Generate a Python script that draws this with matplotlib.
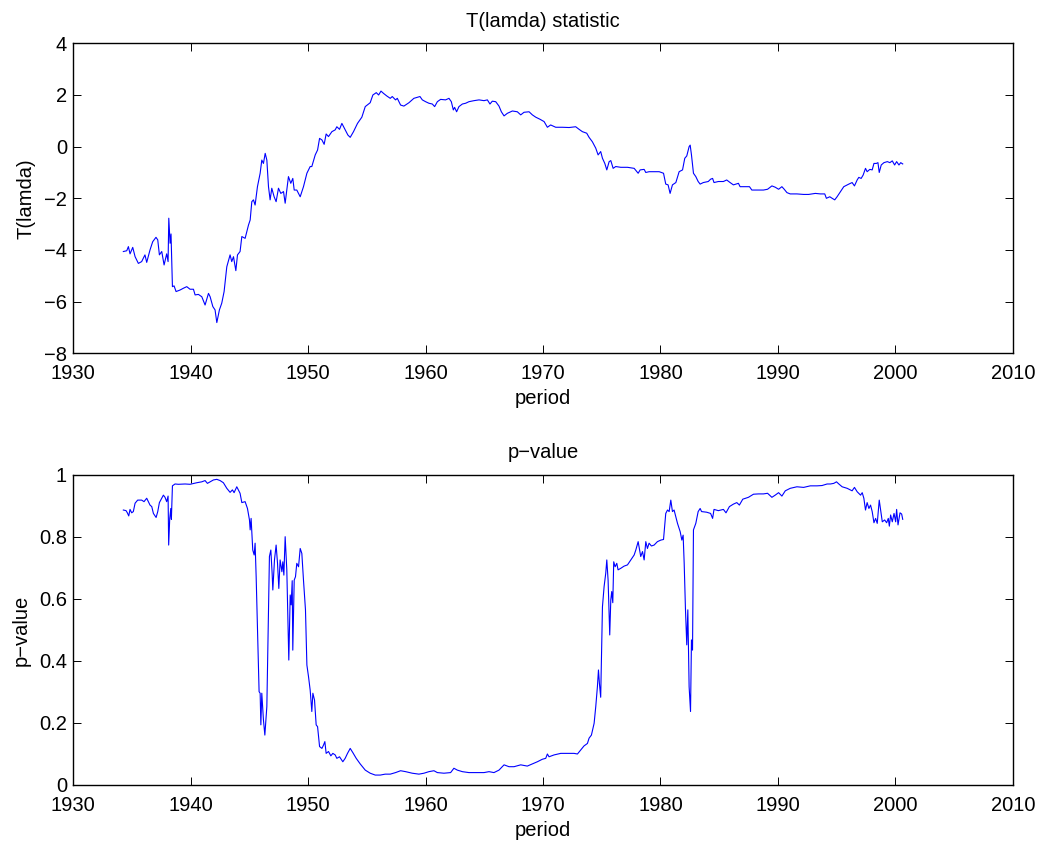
import matplotlib.pyplot as plt

plt.rcParams['font.family'] = ['Liberation Sans', 'DejaVu Sans']

# T(lamda) statistic
t_year = [1934.26, 1934.55, 1934.69, 1934.83, 1935.06, 1935.26, 1935.54, 1935.82, 1936.10, 1936.25,
          1936.53, 1936.76, 1937.04, 1937.19, 1937.33, 1937.53, 1937.73, 1937.95, 1938.07, 1938.13,
          1938.24, 1938.32, 1938.44, 1938.58, 1938.75, 1939.09, 1939.38, 1939.66, 1939.94, 1940.23,
          1940.37, 1940.65, 1940.94, 1941.22, 1941.51, 1941.65, 1941.88, 1942.07, 1942.22, 1942.44,
          1942.64, 1942.84, 1943.07, 1943.35, 1943.49, 1943.64, 1943.84, 1943.98, 1944.20, 1944.35,
          1944.63, 1944.92, 1945.06, 1945.20, 1945.34, 1945.48, 1945.68, 1945.91, 1946.05, 1946.19,
          1946.34, 1946.48, 1946.62, 1946.76, 1946.90, 1947.10, 1947.27, 1947.47, 1947.67, 1947.90,
          1948.04, 1948.32, 1948.52, 1948.69, 1948.81, 1949.03, 1949.32, 1949.60, 1949.89, 1950.17,
          1950.31, 1950.60, 1950.80, 1950.97, 1951.17, 1951.36, 1951.53, 1951.73, 1952.02, 1952.30,
          1952.44, 1952.67, 1952.87, 1953.15, 1953.38, 1953.58, 1953.86, 1954.20, 1954.57, 1954.86,
          1955.28, 1955.51, 1955.80, 1956.00, 1956.20, 1956.42, 1956.70, 1956.99,
          1957.16, 1957.44, 1957.59, 1957.87, 1958.15, 1958.58, 1959.00, 1959.52, 1959.72, 1960.00,
          1960.28, 1960.57, 1960.77, 1961.00, 1961.28, 1961.70, 1961.99, 1962.19, 1962.36, 1962.47,
          1962.64, 1962.84, 1963.13, 1963.41, 1963.69, 1964.12, 1964.55, 1964.97, 1965.26, 1965.48,
          1965.68, 1965.97, 1966.25, 1966.45, 1966.68, 1966.96, 1967.39, 1967.81, 1968.10, 1968.38,
          1968.81, 1969.09, 1969.38, 1969.74, 1970.09, 1970.37, 1970.65, 1971.08, 1971.65, 1972.22,
          1972.78, 1973.07, 1973.35, 1973.72, 1973.92, 1974.20, 1974.49, 1974.69, 1974.91, 1975.06,
          1975.26, 1975.43, 1975.63, 1975.77, 1975.97, 1976.19, 1976.62, 1977.19, 1977.76, 1978.10,
          1978.27, 1978.61, 1978.75, 1979.03, 1979.46, 1979.89, 1980.26, 1980.45, 1980.65, 1980.82,
          1981.02, 1981.31, 1981.59, 1981.88, 1982.07, 1982.24, 1982.44, 1982.53, 1982.64, 1982.81,
          1983.01, 1983.21, 1983.38,
          1983.65, 1984.07, 1984.27, 1984.44, 1984.56, 1984.93, 1985.36, 1985.64, 1985.93, 1986.21,
          1986.64, 1986.78, 1987.07, 1987.58, 1987.78, 1988.21, 1988.77, 1989.12, 1989.49, 1989.77,
          1990.06, 1990.34, 1990.54, 1990.77, 1991.05, 1991.62, 1992.19, 1992.62, 1993.19, 1993.62,
          1993.99, 1994.13, 1994.42, 1994.62, 1994.84, 1995.04, 1995.33, 1995.61, 1996.04, 1996.32,
          1996.52, 1996.75, 1996.89, 1997.09, 1997.26, 1997.46, 1997.60, 1997.83, 1998.03, 1998.18,
          1998.38, 1998.52, 1998.63, 1998.80, 1999.03, 1999.32, 1999.54, 1999.74, 1999.94, 2000.11,
          2000.31, 2000.46, 2000.63]
t_stat = [-4.06, -4.03, -3.87, -4.15, -3.90, -4.26, -4.52, -4.45, -4.19, -4.48,
          -4.00, -3.68, -3.51, -3.61, -4.19, -4.06, -4.58, -4.15, -4.45, -2.77,
          -3.74, -3.38, -5.42, -5.39, -5.61, -5.55, -5.48, -5.42, -5.52, -5.52,
          -5.74, -5.72, -5.81, -6.13, -5.68, -5.81, -6.19, -6.32, -6.81, -6.32,
          -6.06, -5.61, -4.65, -4.19, -4.45, -4.26, -4.80, -4.19, -4.06, -3.48,
          -3.55, -3.03, -2.84, -2.13, -2.06, -2.26, -1.55, -1.03, -0.52, -0.65,
          -0.26, -0.52, -1.55, -2.06, -1.61, -1.94, -2.13, -1.61, -1.81, -1.74,
          -2.19, -1.16, -1.42, -1.23, -1.68, -1.68, -1.94, -1.55, -1.03, -0.77,
          -0.77, -0.32, -0.13, 0.32, 0.26, 0.09, 0.49, 0.39, 0.58, 0.65,
          0.77, 0.67, 0.90, 0.65, 0.45, 0.36, 0.58, 0.90, 1.14, 1.55,
          1.70, 2.00, 2.09, 2.00, 2.15, 2.06, 1.96, 1.87,
          1.94, 1.81, 1.87, 1.61, 1.57, 1.70, 1.87, 1.94, 1.81, 1.74,
          1.68, 1.65, 1.55, 1.74, 1.83, 1.81, 1.87, 1.74, 1.42, 1.52,
          1.35, 1.55, 1.65, 1.68, 1.74, 1.78, 1.81, 1.78, 1.81, 1.65,
          1.76, 1.74, 1.57, 1.35, 1.19, 1.29, 1.38, 1.35, 1.23, 1.33,
          1.35, 1.23, 1.14, 1.06, 0.97, 0.75, 0.84, 0.75, 0.75, 0.74,
          0.77, 0.67, 0.58, 0.52, 0.36, 0.19, -0.06, -0.32, -0.19, -0.45,
          -0.65, -0.90, -0.58, -0.54, -0.84, -0.77, -0.80, -0.80, -0.84, -1.03,
          -0.90, -0.88, -1.00, -0.97, -0.97, -0.97, -1.03, -1.45, -1.48, -1.81,
          -1.48, -1.39, -0.97, -0.90, -0.45, -0.36, 0.00, 0.06, -0.32, -1.03,
          -1.16, -1.35, -1.45,
          -1.39, -1.35, -1.26, -1.23, -1.39, -1.35, -1.35, -1.29, -1.39, -1.48,
          -1.42, -1.55, -1.55, -1.55, -1.68, -1.68, -1.68, -1.65, -1.52, -1.57,
          -1.65, -1.55, -1.65, -1.78, -1.83, -1.83, -1.85, -1.85, -1.81, -1.83,
          -1.83, -2.00, -1.94, -2.00, -2.06, -1.94, -1.74, -1.55, -1.45, -1.39,
          -1.52, -1.29, -1.19, -1.23, -1.10, -0.84, -0.97, -0.88, -0.90, -0.65,
          -0.65, -0.62, -1.00, -0.71, -0.62, -0.58, -0.62, -0.55, -0.71, -0.58,
          -0.71, -0.62, -0.67]

# p-value
p_year = [1934.26, 1934.49, 1934.60, 1934.72, 1934.83, 1934.97, 1935.11, 1935.26, 1935.48, 1935.82,
          1936.02, 1936.25, 1936.53, 1936.68, 1936.82, 1937.05, 1937.19, 1937.33, 1937.44, 1937.67,
          1937.81, 1937.95, 1938.07, 1938.12, 1938.21, 1938.30, 1938.35, 1938.44, 1938.66, 1938.95,
          1939.52, 1939.94, 1940.51, 1940.94, 1941.22, 1941.42, 1941.65, 1941.93, 1942.22, 1942.50,
          1942.78, 1943.07, 1943.35, 1943.55, 1943.69, 1943.92, 1944.20, 1944.35, 1944.63, 1944.83,
          1945.00, 1945.06, 1945.14, 1945.28, 1945.40, 1945.48, 1945.57, 1945.68, 1945.82, 1945.91,
          1945.97, 1946.05, 1946.19, 1946.31, 1946.48, 1946.62, 1946.70, 1946.82, 1946.93, 1946.99,
          1947.13, 1947.27, 1947.39, 1947.50, 1947.61, 1947.76, 1947.84, 1947.93, 1948.04, 1948.18,
          1948.27, 1948.35, 1948.47, 1948.55, 1948.64, 1948.69, 1948.81, 1948.92, 1949.03, 1949.18,
          1949.32, 1949.46, 1949.60, 1949.77, 1949.89, 1950.03, 1950.17, 1950.31, 1950.40, 1950.54,
          1950.68, 1950.80, 1950.97, 1951.17, 1951.31, 1951.42, 1951.53, 1951.73, 1951.93, 1952.10,
          1952.30, 1952.44, 1952.67, 1952.95, 1953.15, 1953.35, 1953.58, 1953.81, 1954.09, 1954.43,
          1954.86, 1955.28, 1955.71, 1956.14, 1956.56, 1956.99,
          1957.44, 1957.87, 1958.30, 1958.86, 1959.43, 1959.86, 1960.28, 1960.71, 1961.00, 1961.56,
          1962.13, 1962.41, 1962.70, 1963.13, 1963.69, 1964.40, 1964.97, 1965.40, 1965.82, 1966.25,
          1966.68, 1967.10, 1967.53, 1968.10, 1968.66, 1969.09, 1969.52, 1969.94, 1970.23, 1970.37,
          1970.51, 1970.94, 1971.51, 1972.07, 1972.64, 1972.93, 1973.21, 1973.49, 1973.78, 1973.92,
          1974.12, 1974.35, 1974.49, 1974.63, 1974.72, 1974.80, 1974.91, 1974.97, 1975.06, 1975.20,
          1975.34, 1975.43, 1975.54, 1975.68, 1975.77, 1975.85, 1975.94, 1976.02, 1976.14, 1976.28,
          1976.39, 1976.62, 1976.90, 1977.19, 1977.47, 1977.76, 1977.90, 1978.10, 1978.18, 1978.32,
          1978.47, 1978.61, 1978.75, 1978.89, 1979.03, 1979.23, 1979.46, 1979.74, 1980.03, 1980.26,
          1980.45, 1980.60, 1980.74, 1980.88, 1981.02, 1981.16, 1981.45, 1981.68, 1981.82, 1981.93,
          1982.02, 1982.13, 1982.24, 1982.33, 1982.44, 1982.56, 1982.64, 1982.73, 1982.81, 1983.01,
          1983.21, 1983.38,
          1983.50, 1983.93, 1984.27, 1984.44, 1984.56, 1984.93, 1985.36, 1985.58, 1985.87, 1986.21,
          1986.50, 1986.72, 1987.01, 1987.49, 1987.92, 1988.35, 1988.77, 1989.12, 1989.49, 1989.77,
          1990.06, 1990.34, 1990.63, 1991.05, 1991.62, 1992.19, 1992.76, 1993.33, 1993.76, 1994.19,
          1994.47, 1994.76, 1994.99, 1995.19, 1995.47, 1995.90, 1996.32, 1996.52, 1996.75, 1997.04,
          1997.18, 1997.32, 1997.46, 1997.60, 1997.75, 1997.89, 1998.03, 1998.18, 1998.32, 1998.46,
          1998.63, 1998.75, 1998.89, 1999.09, 1999.26, 1999.40, 1999.49, 1999.60, 1999.74, 1999.89,
          2000.03, 2000.11, 2000.23, 2000.40, 2000.54, 2000.63]
p_val = [0.887, 0.885, 0.878, 0.868, 0.889, 0.878, 0.882, 0.909, 0.919, 0.919,
         0.914, 0.925, 0.903, 0.898, 0.876, 0.863, 0.882, 0.911, 0.919, 0.935,
         0.928, 0.914, 0.932, 0.774, 0.860, 0.892, 0.857, 0.965, 0.971, 0.970,
         0.971, 0.970, 0.975, 0.978, 0.982, 0.973, 0.978, 0.984, 0.986, 0.982,
         0.975, 0.957, 0.944, 0.952, 0.943, 0.962, 0.941, 0.911, 0.914, 0.892,
         0.855, 0.823, 0.860, 0.758, 0.742, 0.780, 0.672, 0.511, 0.301, 0.296,
         0.194, 0.296, 0.210, 0.161, 0.253, 0.565, 0.737, 0.758, 0.683, 0.629,
         0.726, 0.774, 0.715, 0.634, 0.726, 0.688, 0.720, 0.677, 0.801, 0.694,
         0.532, 0.403, 0.613, 0.581, 0.659, 0.435, 0.661, 0.672, 0.715, 0.704,
         0.763, 0.747, 0.661, 0.565, 0.387, 0.349, 0.306, 0.237, 0.296, 0.274,
         0.194, 0.188, 0.124, 0.118, 0.129, 0.140, 0.102, 0.108, 0.094, 0.102,
         0.097, 0.086, 0.091, 0.075, 0.086, 0.102, 0.118, 0.104, 0.086, 0.068,
         0.048, 0.038, 0.032, 0.032, 0.035, 0.035,
         0.040, 0.046, 0.043, 0.038, 0.035, 0.038, 0.043, 0.046, 0.040, 0.038,
         0.040, 0.054, 0.048, 0.043, 0.040, 0.040, 0.040, 0.043, 0.040, 0.048,
         0.065, 0.059, 0.059, 0.065, 0.061, 0.068, 0.075, 0.083, 0.086, 0.100,
         0.091, 0.097, 0.102, 0.102, 0.102, 0.100, 0.113, 0.126, 0.134, 0.151,
         0.161, 0.199, 0.253, 0.317, 0.371, 0.328, 0.283, 0.403, 0.575, 0.640,
         0.683, 0.726, 0.661, 0.484, 0.597, 0.624, 0.588, 0.720, 0.704, 0.715,
         0.694, 0.699, 0.706, 0.710, 0.726, 0.742, 0.758, 0.785, 0.767, 0.737,
         0.753, 0.726, 0.785, 0.763, 0.780, 0.771, 0.774, 0.785, 0.790, 0.792,
         0.876, 0.887, 0.882, 0.919, 0.882, 0.887, 0.844, 0.817, 0.790, 0.806,
         0.715, 0.565, 0.452, 0.565, 0.317, 0.237, 0.468, 0.435, 0.823, 0.844,
         0.882, 0.892,
         0.882, 0.880, 0.876, 0.860, 0.889, 0.885, 0.889, 0.878, 0.898, 0.906,
         0.911, 0.903, 0.922, 0.928, 0.938, 0.939, 0.939, 0.941, 0.928, 0.935,
         0.943, 0.932, 0.949, 0.957, 0.962, 0.960, 0.965, 0.965, 0.966, 0.971,
         0.971, 0.973, 0.978, 0.971, 0.962, 0.957, 0.949, 0.960, 0.946, 0.935,
         0.943, 0.925, 0.887, 0.911, 0.892, 0.903, 0.882, 0.846, 0.860, 0.844,
         0.919, 0.887, 0.849, 0.855, 0.846, 0.860, 0.835, 0.871, 0.849, 0.876,
         0.849, 0.889, 0.839, 0.878, 0.874, 0.857]

fig = plt.figure(figsize=(10.4, 8.41), dpi=100)
ax1 = fig.add_axes([0.0705, 0.5799, 0.9033, 0.3686])
ax2 = fig.add_axes([0.0705, 0.0666, 0.9033, 0.3686])

panels = [
    (ax1, t_year, t_stat, (-8, 4), range(-8, 5, 2), 'T(lamda) statistic', 'T(lamda)'),
    (ax2, p_year, p_val, (0, 1), [0, 0.2, 0.4, 0.6, 0.8, 1], 'p\u2212value', 'p\u2212value'),
]

fs = 14.5
for ax, x, y, ylim, yt, title, ylab in panels:
    ax.plot(x, y, color='#0000ff', lw=0.8)
    ax.set_xlim(1930, 2010)
    ax.set_ylim(*ylim)
    ax.set_xticks(range(1930, 2011, 10))
    ax.set_yticks(yt)
    if ax is ax2:
        ax.set_yticklabels(['0', '0.2', '0.4', '0.6', '0.8', '1'])
    ax.tick_params(direction='in', length=6, width=0.7, labelsize=fs,
                   top=True, right=True)
    ax.tick_params(axis='x', pad=8)
    ax.tick_params(axis='y', pad=4.5)
    for s in ax.spines.values():
        s.set_linewidth(1.0)
    ax.set_title(title, fontsize=fs, pad=12)
    ax.set_xlabel('period', fontsize=fs, labelpad=4)
    ax.set_ylabel(ylab, fontsize=fs, labelpad=6)

fig.savefig('out.png', dpi=100)
